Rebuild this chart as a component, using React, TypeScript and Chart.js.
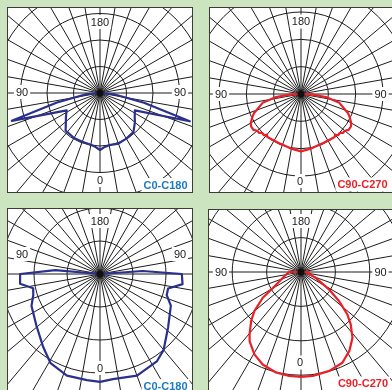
import React, { useEffect, useRef } from 'react';
import { Chart, registerables } from 'chart.js';
Chart.register(...registerables);

// ---------- data (gamma in degrees, intensity in arbitrary units; rings every 100) ----------
// Top-left: C0-C180
const tlGammaC0 = [0, 5, 10, 20, 30, 40.5, 50, 55, 63.5, 72.5, 77.5, 85, 90];
const tlValueC0 = [215, 204, 200, 203, 199, 194, 172, 160, 147, 355, 170, 53, 0];
const tlGammaC180 = [0, 5, 10, 20, 30, 42.5, 50, 55, 62.5, 72.5, 77.5, 85, 90];
const tlValueC180 = [215, 204, 198, 196, 196, 192, 168, 157, 142, 349, 166, 53, 0];

// Top-right: C90-C270
const trGammaC90 = [0, 10, 16, 25, 32, 38, 40, 42, 45, 47, 50, 53, 57, 60, 65, 68, 77, 83, 87, 90];
const trValueC90 = [210, 203, 199, 197, 197, 200, 194, 203, 201, 209, 209, 218, 218, 212, 196, 185, 144, 92, 43, 0];
const trGammaC270 = [0, 10, 16, 25, 32, 38, 40, 42, 45, 47, 50, 53, 57, 60, 65, 68, 77, 83, 87, 90];
const trValueC270 = [210, 203, 199, 197, 197, 200, 194, 203, 201, 209, 209, 218, 218, 212, 196, 185, 144, 92, 43, 0];

// Bottom-left: C0-C180
const blGammaC0 = [0, 7, 20, 33, 40, 52, 66, 72.5, 78, 83, 90, 94, 100];
const blValueC0 = [327, 321, 328, 316, 300, 262, 235, 212, 211, 252, 248, 130, 0];
const blGammaC180 = [0, 7, 18, 29, 38, 51, 65, 72.5, 78, 83, 90, 95, 100];
const blValueC180 = [327, 324, 324, 309, 280, 248, 229, 212, 207, 244, 242, 136, 0];

// Bottom-right: C90-C270
const brGammaC90 = [0, 6.5, 16, 24.5, 31.5, 38, 43.5, 47.5, 52.5, 58, 68, 81, 90, 95];
const brValueC90 = [305, 304, 299, 290, 269, 243, 210, 183, 140, 97, 47, 19, 23, 0];
const brGammaC270 = [0, 6.5, 14, 22.5, 29.5, 36.5, 39.5, 45.5, 50, 56, 60.5, 75.5, 90, 95];
const brValueC270 = [305, 304, 301, 291, 275, 251, 235, 203, 177, 134, 94, 50, 35, 0];

// visible axis texts
const axisTexts = ['180', '90', '90', '0'];
const curveNames = ['C0-C180', 'C90-C270', 'C0-C180', 'C90-C270'];

const STEP = 0.5;
const LABEL_COUNT = 720;
const SPOKE_EVERY = 10;

const NAVY = '#2b2f8e';
const RED = '#ec1f27';
const NAME_BLUE = '#1d79c2';
const NAME_RED = '#ec1f27';

function buildSeries(gR: number[], vR: number[], gL: number[], vL: number[]) {
  const arr: (number | null)[] = new Array(LABEL_COUNT).fill(null);
  gL.forEach((g, i) => {
    arr[Math.round(g / STEP) % LABEL_COUNT] = vL[i];
  });
  gR.forEach((g, i) => {
    arr[Math.round((360 - g) / STEP) % LABEL_COUNT] = vR[i];
  });
  return arr;
}

const angleLabels = Array.from({ length: LABEL_COUNT }, (_, i) => String(i * STEP));

type TextItem = { text: string; dx: number; dy: number; color?: string; bold?: boolean };

const panelTextPlugin = {
  id: 'panelText',
  afterDraw(chart: any, _args: any, opts: any) {
    const scale = chart.scales.r;
    const ctx = chart.ctx;
    const cx = scale.xCenter;
    const cy = scale.yCenter;
    ctx.save();
    ctx.fillStyle = '#111';
    ctx.beginPath();
    ctx.arc(cx, cy, 3.5, 0, Math.PI * 2);
    ctx.fill();
    (opts.items as TextItem[]).forEach((t) => {
      ctx.font = `${t.bold ? 'bold ' : ''}11px "Liberation Sans", Arial, sans-serif`;
      const w = ctx.measureText(t.text).width;
      const x = cx + t.dx;
      const y = cy + t.dy;
      ctx.fillStyle = '#ffffff';
      ctx.fillRect(x - w / 2 - 2, y - 7, w + 4, 14);
      ctx.fillStyle = t.color || '#1a1a1a';
      ctx.textAlign = 'center';
      ctx.textBaseline = 'middle';
      ctx.fillText(t.text, x, y + 0.5);
    });
    ctx.restore();
  },
};

type PanelDef = {
  left: number; top: number; width: number; height: number;
  cx: number; cy: number; pxPer100: number; max: number; maxRing: number;
  color: string; data: (number | null)[]; texts: TextItem[];
};

const panels: PanelDef[] = [
  {
    left: 7, top: 7, width: 186, height: 186, cx: 100, cy: 93, pxPer100: 26.5, max: 600, maxRing: 400,
    color: NAVY, data: buildSeries(tlGammaC0, tlValueC0, tlGammaC180, tlValueC180),
    texts: [
      { text: axisTexts[0], dx: 0, dy: -71 },
      { text: axisTexts[1], dx: -78, dy: -1 },
      { text: axisTexts[2], dx: 80, dy: -1 },
      { text: axisTexts[3], dx: 0, dy: 87 },
      { text: curveNames[0], dx: 65.5, dy: 92, color: NAME_BLUE, bold: true },
    ],
  },
  {
    left: 209, top: 7, width: 200, height: 186, cx: 301, cy: 94, pxPer100: 27.3, max: 600, maxRing: 400,
    color: RED, data: buildSeries(trGammaC90, trValueC90, trGammaC270, trValueC270),
    texts: [
      { text: axisTexts[0], dx: 0, dy: -72.5 },
      { text: axisTexts[1], dx: -80, dy: 0 },
      { text: axisTexts[2], dx: 79.5, dy: 0 },
      { text: axisTexts[3], dx: -1, dy: 87 },
      { text: curveNames[1], dx: 61.5, dy: 90.5, color: NAME_RED, bold: true },
    ],
  },
  {
    left: 7, top: 208, width: 186, height: 200, cx: 100, cy: 274, pxPer100: 33, max: 500, maxRing: 300,
    color: NAVY, data: buildSeries(blGammaC0, blValueC0, blGammaC180, blValueC180),
    texts: [
      { text: axisTexts[0], dx: 0, dy: -53 },
      { text: axisTexts[1], dx: -78, dy: -20 },
      { text: axisTexts[2], dx: 80, dy: -20 },
      { text: axisTexts[3], dx: 0, dy: 94 },
      { text: curveNames[2], dx: 65.5, dy: 112, color: NAME_BLUE, bold: true },
    ],
  },
  {
    left: 208, top: 209, width: 200, height: 200, cx: 301, cy: 272, pxPer100: 34.5, max: 500, maxRing: 300,
    color: RED, data: buildSeries(brGammaC90, brValueC90, brGammaC270, brValueC270),
    texts: [
      { text: axisTexts[0], dx: 0, dy: -51 },
      { text: axisTexts[1], dx: -80, dy: 0 },
      { text: axisTexts[2], dx: 79.5, dy: 0 },
      { text: axisTexts[3], dx: -1, dy: 90.5 },
      { text: curveNames[3], dx: 62, dy: 111.5, color: NAME_RED, bold: true },
    ],
  },
];

function PolarPanel({ p }: { p: PanelDef }) {
  const ref = useRef<HTMLCanvasElement | null>(null);
  const size = Math.round((2 * p.max * p.pxPer100) / 100);
  const half = Math.floor(size / 2);
  useEffect(() => {
    if (!ref.current) return;
    const spokeIdx = Math.round(SPOKE_EVERY / STEP);
    const chart = new Chart(ref.current, {
      type: 'radar',
      data: {
        labels: angleLabels,
        datasets: [
          {
            data: p.data as any,
            borderColor: p.color,
            borderWidth: 2.2,
            pointRadius: 0,
            pointHoverRadius: 0,
            fill: false,
            spanGaps: true,
            tension: 0,
            borderJoinStyle: 'round',
          } as any,
        ],
      },
      options: {
        responsive: false,
        animation: false,
        devicePixelRatio: 1,
        events: [],
        layout: { padding: 0 },
        plugins: {
          legend: { display: false },
          tooltip: { enabled: false },
          panelText: { items: p.texts },
        } as any,
        scales: {
          r: {
            min: 0,
            max: p.max,
            startAngle: 180,
            ticks: { display: false, stepSize: 100 },
            pointLabels: { display: false },
            grid: {
              circular: true,
              lineWidth: 1,
              color: (c: any) => (c.tick && c.tick.value <= p.maxRing ? '#1c1c1c' : 'rgba(0,0,0,0)'),
            },
            angleLines: {
              display: true,
              color: '#1c1c1c',
              lineWidth: (c: any) => (c.index % spokeIdx === 0 ? 1 : 0),
            },
          } as any,
        },
      },
      plugins: [panelTextPlugin as any],
    });
    return () => chart.destroy();
  }, [p]);
  return (
    <div
      style={{
        position: 'absolute',
        left: p.left,
        top: p.top,
        width: p.width,
        height: p.height,
        boxSizing: 'border-box',
        border: '1px solid #3a3a3a',
        background: '#ffffff',
        overflow: 'hidden',
      }}
    >
      <canvas
        ref={ref}
        width={size}
        height={size}
        style={{
          position: 'absolute',
          left: p.cx - half - (p.left + 1),
          top: p.cy - half - (p.top + 1),
          width: size,
          height: size,
        }}
      />
    </div>
  );
}

export default function App() {
  return (
    <div
      style={{
        position: 'fixed',
        left: 0,
        top: 0,
        width: 392,
        height: 390,
        overflow: 'hidden',
        background: '#cde4c0',
      }}
    >
      {panels.map((p, i) => (
        <PolarPanel key={i} p={p} />
      ))}
    </div>
  );
}
